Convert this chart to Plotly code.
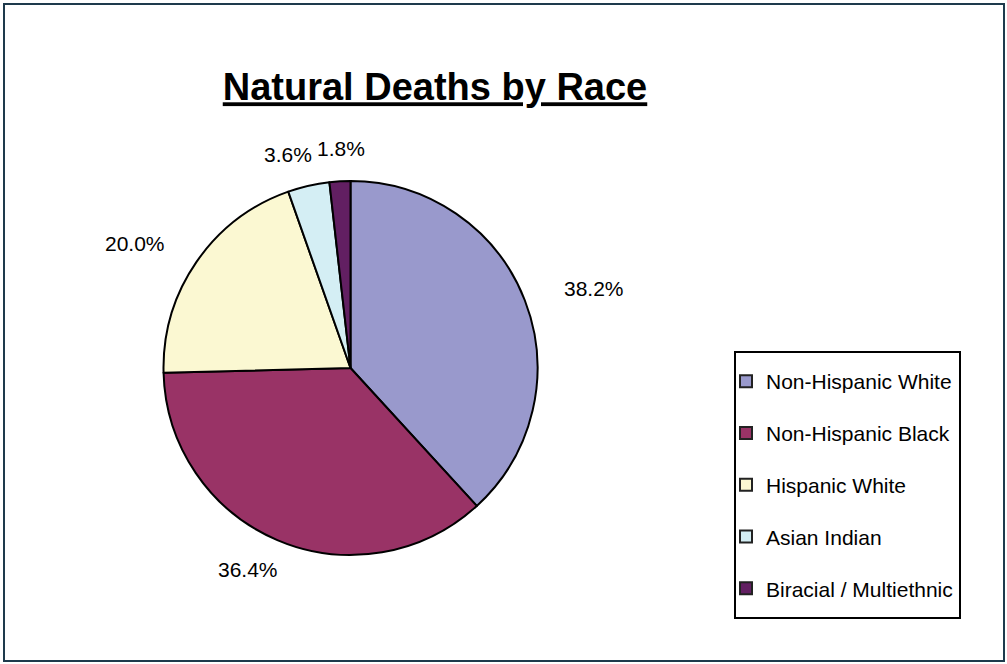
import math
import plotly.graph_objects as go

# ---- data ----
categories = ["Non-Hispanic White", "Non-Hispanic Black", "Hispanic White",
              "Asian Indian", "Biracial / Multiethnic"]
percentages = [38.2, 36.4, 20.0, 3.6, 1.8]
slice_colors = ["#9999CC", "#993366", "#FBF8D2", "#D4EEF4", "#621F62"]
chart_title = "Natural Deaths by Race"

W, H = 1007, 664
FONT = "Liberation Sans, Arial, sans-serif"

# pie geometry (pixels)
cx_px, cy_px, R = 350.5, 368.0, 187.0
dom_x = [(cx_px - R) / W, (cx_px + R) / W]
dom_y = [(H - cy_px - R) / H, (H - cy_px + R) / H]

fig = go.Figure()
fig.add_trace(go.Pie(
    labels=categories, values=percentages, sort=False, direction="clockwise",
    rotation=0, marker=dict(colors=slice_colors, line=dict(color="#000000", width=2)),
    textinfo="none", showlegend=False, domain=dict(x=dom_x, y=dom_y),
    hovertemplate="%{label}: %{value:.1f}%<extra></extra>",
))

# legend entries
for name, col in zip(categories, slice_colors):
    fig.add_trace(go.Scatter(
        x=[None], y=[None], mode="markers", name=name, legendgroup=name,
        marker=dict(symbol="square", size=10, color=col, line=dict(color="#222222", width=1.5)),
    ))

# percentage labels placed outside each slice at its mid-angle
label_size = 21
ARIAL_W = {".": 0.278, "%": 0.889}


def text_width(t, size):
    return sum(ARIAL_W.get(ch, 0.556) for ch in t) * size


total = sum(percentages)
boxes = []
cum = 0.0
gap_x, gap_y = 45, 22
for v in percentages:
    mid = (cum + v / 2) / total * 2 * math.pi
    cum += v
    s, c = math.sin(mid), math.cos(mid)
    txt = f"{v:.1f}%"
    tw = text_width(txt, label_size)
    th = label_size
    px = cx_px + (R + gap_x) * s + s * tw / 2
    py = cy_px - (R + gap_y) * c - c * th / 2
    boxes.append([px, py, tw, th, txt])

# push apart neighbouring labels that would overlap
pad = 6
for _ in range(5):
    for i in range(len(boxes)):
        a, b = boxes[i], boxes[(i + 1) % len(boxes)]
        if abs(a[1] - b[1]) < (a[3] + b[3]) / 2:
            left, right = (a, b) if a[0] <= b[0] else (b, a)
            ov = (left[0] + left[2] / 2 + pad) - (right[0] - right[2] / 2)
            if ov > 0:
                left[0] -= ov / 2
                right[0] += ov / 2

annotations = [dict(
    x=px / W, y=1 - py / H, xref="paper", yref="paper", text=txt, showarrow=False,
    xanchor="center", yanchor="middle",
    font=dict(family=FONT, size=label_size, color="#000000"),
) for px, py, tw, th, txt in boxes]

fig.update_layout(
    width=W, height=H, margin=dict(l=0, r=0, t=0, b=0),
    paper_bgcolor="white", plot_bgcolor="white",
    title=dict(text=chart_title, x=435 / W, xanchor="center", y=1 - 87 / H, yanchor="middle",
               font=dict(family=FONT, size=38, color="#000000", weight="bold", lineposition="under")),
    xaxis=dict(visible=False), yaxis=dict(visible=False),
    legend=dict(x=726 / W, y=1 - 361 / H, xanchor="left", yanchor="top",
                borderwidth=0, bgcolor="rgba(0,0,0,0)",
                font=dict(family=FONT, size=21, color="#000000"),
                tracegroupgap=21.5, itemsizing="constant"),
    annotations=annotations,
    shapes=[
        dict(type="rect", xref="paper", yref="paper",
             x0=4 / W, x1=1 - 3 / W, y0=3 / H, y1=1 - 4 / H,
             line=dict(color="#1E3A4C", width=2), fillcolor="rgba(0,0,0,0)"),
        dict(type="rect", xref="paper", yref="paper", layer="below",
             x0=735 / W, x1=960 / W, y0=1 - 618 / H, y1=1 - 352 / H,
             line=dict(color="#000000", width=2), fillcolor="white"),
    ],
)

fig.write_html("out.html")
